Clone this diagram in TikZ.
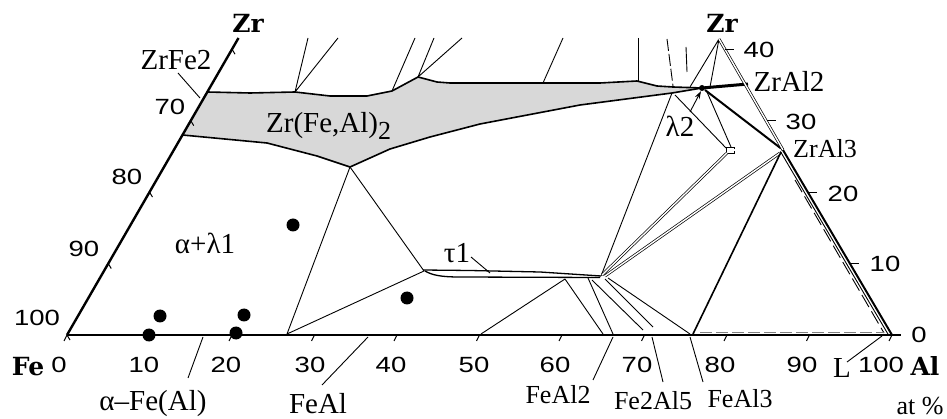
\documentclass[tikz,border=0pt]{standalone}
\usepackage{fontspec}
\setmainfont{Liberation Serif}
\newfontfamily\numf[FakeStretch=1.25]{Liberation Sans}
\newfontfamily\bldf{DejaVu Serif}
\usetikzlibrary{arrows.meta}
\definecolor{phase}{RGB}{216,216,216}
\begin{document}
\begin{tikzpicture}[x=1pt,y=-1pt,
  thinl/.style={line width=0.9pt},
  bnd/.style={line width=1.6pt, line join=round},
  axis/.style={line width=2.4pt},
  dbl/.style={double, double distance=1.4pt, line width=0.7pt},
  lab/.style={font=\fontsize{29}{32}\selectfont, inner sep=0},
  slab/.style={font=\fontsize{26}{28}\selectfont, inner sep=0},
  num/.style={font=\numf\fontsize{22}{24}\selectfont, inner sep=0},
  bl/.style={font=\bldf\bfseries\fontsize{25}{27}\selectfont, inner sep=0},
  dot/.style={circle, fill, inner sep=0, minimum size=13pt}]
\useasboundingbox (0,0) rectangle (947,419);
% key points
\coordinate (Fe) at (67,335);
\coordinate (Al) at (892,335);
\coordinate (BE) at (900,335);
\coordinate (Ltop) at (238.5,38);
\coordinate (Rtop) at (719,39);
\coordinate (LA) at (207.3,92);
\coordinate (LB0) at (182.5,135);
\coordinate (P1) at (295,92);
\coordinate (P2) at (392,91);
\coordinate (P3) at (418,77);
\coordinate (P4) at (543,83);
\coordinate (P5) at (637,81);
\coordinate (V) at (350,167);
\coordinate (T1L) at (424,271);
\coordinate (T1R) at (601,276);
\coordinate (B1) at (287,334);
\coordinate (B2) at (481,334);
\coordinate (U1) at (565,279);
\coordinate (L2) at (702,88);
\coordinate (LB) at (672,93);
\coordinate (Z2) at (748,84);
\coordinate (Z3) at (783,150);
% phase region
\fill[phase] (LA) -- (250,93) -- (P1) -- (330,96) -- (367,96) -- (P2) -- (P3) -- (437,82) -- (450,83) -- (P4) -- (600,83) -- (P5) -- (657,86) -- (673,87) -- (L2) -- (LB) -- (580,105) -- (480,124) -- (430,137) -- (390,149) -- (V) -- (317,156) -- (267,143) -- (LB0) -- cycle;
\draw[bnd] (LA) -- (250,93) -- (P1) -- (330,96) -- (367,96) -- (P2) -- (P3) -- (437,82) -- (450,83) -- (P4) -- (600,83) -- (P5) -- (657,86) -- (673,87) -- (L2);
\draw[bnd] (LB0) -- (267,143) -- (317,156) -- (V) -- (390,149) -- (430,137) -- (480,124) -- (580,105) -- (LB) -- (L2);
% lines to the top
\draw[thinl] (P1) -- (308,38) (P1) -- (338,38) (P2) -- (415,38) (P3) -- (434,38) (P3) -- (462,38) (P4) -- (563,38);
\draw[thinl] (638,38) -- (638,81);
\draw[thinl, dash pattern=on 12pt off 3pt] (667,39) -- (673,86);
\draw[thinl] (686,47) -- (687,72);
\draw[thinl] (Rtop) -- (690,87) (Rtop) -- (710,87);
% lambda2 region
\draw[line width=3pt] (L2) -- (Z2);
\fill (L2) circle (3);
\draw[thinl] (LB) -- (T1R);
\draw[thinl] (675,95) -- (726,148);
\draw[thinl] (707,92) -- (731,147);
\draw[line width=2pt] (705,90) -- (Z3);
\draw[thinl] (726,147) rectangle (734,153);
\draw[dbl] (734,150) -- (781,150);
\draw[dbl] (727,153) -- (602,275);
\draw[dbl] (780,153) -- (605,276);
\draw[line width=1.6pt] (781,152) -- (693,334);
% right side
\draw[dbl] (Rtop) -- (Z3);
\draw[line width=2pt] (Z3) -- (Al);
\draw[thinl] (780.4,151.5) -- (888.5,335);
\draw[thinl, dash pattern=on 14pt off 5pt] (795,180) -- (884,333);
\draw[gray, line width=1pt, dash pattern=on 12pt off 4pt] (700,332.5) -- (884,332.5);
% lower-left triangle and tau1 band
\draw[thinl] (V) -- (T1L) -- (B1) -- cycle;
\draw[line width=1.3pt] (423,270) -- (470,270.5) -- (540,272) -- (T1R);
\draw[line width=1.3pt] (425,271) .. controls (432,275) and (440,277) .. (460,277) -- (600,277.5);
\draw[thinl] (U1) -- (B2) (U1) -- (603,334) (588,278) -- (613,334) (592,280) -- (643,330) (605,279) -- (653,327) (608,278) -- (690,334);
% axes
\draw[axis] (Fe) -- (Ltop);
\draw[axis] (Fe) -- (BE);
\foreach \k in {0,...,10} \draw[line width=1pt] ({67+82.5*\k},335) -- ++(-3,6);
\foreach \z in {0,10,20,30,40} \draw[line width=1pt] ({67+4.125*\z},{335-7.145*\z}) -- ++(3,5);
\foreach \z in {0,10,20,30,40} \draw[line width=1.1pt] ({892-4.176*\z},{335-7.145*\z}) -- ++(9,0);
% dots
\node[dot] (d1) at (293,225) {};
\node[dot] (d2) at (160,316) {};
\node[dot] (d3) at (149,335) {};
\node[dot] (d4) at (236,333) {};
\node[dot] (d5) at (244,315) {};
\node[dot] (d6) at (407,298) {};
% axis labels
\node[bl] (zrl) at (248,23) {Zr};
\node[bl] (zrr) at (722,23) {Zr};
\node[bl] (fel) at (28,367) {Fe};
\node[bl] (all) at (925,366) {Al};
\foreach \x/\t in {59/0,144/10,226/20,310/30,391/40,474/50,555/60,637/70,720/80,802/90,881/100}
  \node[num] (b\t) at (\x,365) {\t};
\node[num] (l70) at (170,107) {70};
\node[num] (l80) at (127,177) {80};
\node[num] (l90) at (84,249) {90};
\node[num] (l100) at (37,318) {100};
\node[num] (r40) at (759,50) {40};
\node[num] (r30) at (801,122) {30};
\node[num] (r20) at (843,194) {20};
\node[num] (r10) at (885,264) {10};
\node[num] (r0) at (919,335) {0};
% phase labels
\node[lab] (zrfe2) at (176,60) {ZrFe2};
\draw[thinl] (178,73) -- (200,98);
\node[lab, anchor=base west] (zfa) at (266,133) {Zr(Fe,Al)\raisebox{-7pt}{\fontsize{26}{26}\selectfont 2}};
\node[lab] (zral2) at (789,81) {ZrAl2};
\node[slab] (zral3) at (825,149) {ZrAl3};
\node[lab] (lam2) at (680,126) {λ2};
\draw[thinl, -{Stealth[length=8pt,width=5pt]}] (690,112) -- (701,91);
\node[lab] (tau1) at (457,253) {τ1};
\draw[thinl] (471,257) -- (490,273);
\node[lab] (al1) at (205,243) {α+λ1};
\node[lab] (afe) at (153,404) {α\textendash Fe(Al)};
\draw[thinl] (188,378) -- (203,337);
\node[lab] (feal) at (318,404) {FeAl};
\draw[thinl] (322,385) -- (368,337);
\node[slab] (feal2) at (558,395) {FeAl2};
\draw[thinl] (593,380) -- (613,337);
\node[slab] (fe2al5) at (653,401) {Fe2Al5};
\draw[thinl] (663,382) -- (652,337);
\node[slab] (feal3) at (740,399) {FeAl3};
\draw[thinl] (703,382) -- (690,337);
\node[lab] (liq) at (842,368) {L};
\draw[thinl] (847,362) -- (882,336);
\node[slab] (atp) at (920,406) {at \%};
\end{tikzpicture}
\end{document}
